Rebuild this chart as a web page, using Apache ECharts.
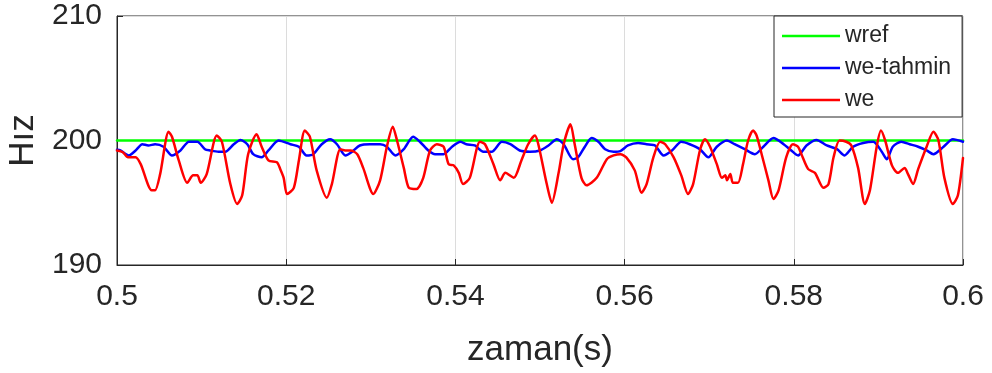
<!DOCTYPE html>
<html>
<head>
<meta charset="utf-8">
<script src="https://cdn.jsdelivr.net/npm/echarts@6/dist/echarts.min.js"></script>
<style>
  html, body { margin: 0; padding: 0; background: #ffffff; }
  #chart { width: 992px; height: 373px; }
</style>
</head>
<body>
<div id="chart"></div>
<script>
// Speed reference, estimated speed and measured speed over 0.5–0.6 s
const seriesNames = ['wref', 'we-tahmin', 'we'];

const wrefTime = [0.5, 0.6];
const wrefValues = [200, 200];

const weTahminTime = [
  0.5000, 0.5004, 0.5014, 0.5022, 0.5030, 0.5037, 0.5045, 0.5055, 0.5065, 0.5075,
  0.5085, 0.5095, 0.5104, 0.5110, 0.5120, 0.5128, 0.5138, 0.5146, 0.5154, 0.5161,
  0.5171, 0.5179, 0.5191, 0.5205, 0.5215, 0.5224, 0.5232, 0.5242, 0.5252, 0.5260,
  0.5270, 0.5278, 0.5287, 0.5299, 0.5311, 0.5319, 0.5329, 0.5339, 0.5350, 0.5358,
  0.5368, 0.5376, 0.5386, 0.5396, 0.5406, 0.5413, 0.5423, 0.5433, 0.5443, 0.5455,
  0.5465, 0.5476, 0.5488, 0.5500, 0.5510, 0.5520, 0.5528, 0.5539, 0.5545, 0.5553,
  0.5561, 0.5569, 0.5577, 0.5587, 0.5595, 0.5604, 0.5616, 0.5626, 0.5636, 0.5646,
  0.5656, 0.5667, 0.5677, 0.5689, 0.5699, 0.5709, 0.5721, 0.5730, 0.5742, 0.5754,
  0.5764, 0.5776, 0.5788, 0.5797, 0.5805, 0.5815, 0.5827, 0.5839, 0.5851, 0.5860,
  0.5870, 0.5882, 0.5894, 0.5904, 0.5910, 0.5917, 0.5927, 0.5937, 0.5947, 0.5957,
  0.5965, 0.5977, 0.5988, 0.6000
];
const weTahminValues = [
  199.25, 199.2, 198.8, 199.2, 199.7, 199.6, 199.7, 199.5, 198.8, 199.2,
  199.9, 199.9, 199.3, 199.2, 199.1, 199.1, 199.7, 200.05, 199.7, 198.9,
  198.65, 199.2, 200.0, 199.7, 199.5, 198.8, 198.9, 199.7, 200.1, 199.7,
  198.8, 199.1, 199.6, 199.7, 199.7, 199.5, 198.8, 199.3, 200.3, 199.9,
  199.2, 198.9, 198.9, 199.5, 199.9, 199.7, 199.6, 199.1, 199.1, 199.9,
  199.7, 199.2, 199.1, 199.2, 199.6, 200.1, 199.7, 198.5, 198.65, 199.5,
  200.2, 199.9, 199.3, 199.1, 199.15, 199.6, 199.8, 199.7, 199.6, 198.8,
  199.2, 199.9, 199.7, 199.3, 198.65, 199.5, 200.0, 199.7, 199.3, 198.9,
  199.5, 200.2, 199.7, 199.2, 198.8, 199.6, 200.05, 199.6, 199.3, 198.8,
  199.5, 199.8, 199.9, 199.1, 198.5, 199.5, 199.9, 199.7, 199.5, 199.2,
  198.9, 199.5, 200.1, 199.9
];

const weTime = [
  0.5000, 0.5007, 0.5013, 0.5022, 0.5028, 0.5041, 0.5045, 0.5051, 0.5061, 0.5065,
  0.5073, 0.5083, 0.5090, 0.5095, 0.5099, 0.5106, 0.5118, 0.5124, 0.5134, 0.5142,
  0.5148, 0.5155, 0.5165, 0.5171, 0.5179, 0.5189, 0.5193, 0.5197, 0.5201, 0.5209,
  0.5215, 0.5222, 0.5228, 0.5236, 0.5248, 0.5254, 0.5264, 0.5270, 0.5276, 0.5284,
  0.5291, 0.5303, 0.5311, 0.5319, 0.5326, 0.5331, 0.5339, 0.5345, 0.5354, 0.5362,
  0.5370, 0.5378, 0.5386, 0.5392, 0.5398, 0.5404, 0.5409, 0.5417, 0.5429, 0.5435,
  0.5445, 0.5453, 0.5459, 0.5469, 0.5478, 0.5486, 0.5494, 0.5498, 0.5508, 0.5514,
  0.5522, 0.5528, 0.5536, 0.5541, 0.5549, 0.5555, 0.5567, 0.5579, 0.5587, 0.5595,
  0.5602, 0.5612, 0.5620, 0.5626, 0.5634, 0.5642, 0.5648, 0.5658, 0.5667, 0.5675,
  0.5681, 0.5689, 0.5695, 0.5701, 0.5709, 0.5715, 0.5719, 0.5721, 0.5725, 0.5728,
  0.5734, 0.5740, 0.5746, 0.5752, 0.5756, 0.5762, 0.5770, 0.5776, 0.5782, 0.5791,
  0.5799, 0.5805, 0.5809, 0.5817, 0.5825, 0.5835, 0.5841, 0.5847, 0.5854, 0.5862,
  0.5868, 0.5876, 0.5884, 0.5890, 0.5898, 0.5903, 0.5908, 0.5916, 0.5923, 0.5931,
  0.5935, 0.5941, 0.5947, 0.5957, 0.5965, 0.5971, 0.5978, 0.5988, 0.5994, 0.6000
];
const weValues = [
  199.2, 199.06, 198.65, 198.65, 198.1, 196.0, 196.0, 197.3, 200.7, 200.3,
  198.4, 196.6, 197.2, 197.2, 196.6, 197.3, 200.4, 199.9, 196.5, 194.9,
  195.6, 198.9, 200.5, 199.5, 198.4, 198.25, 197.7, 197.0, 195.7, 196.2,
  198.4, 200.8, 200.3, 197.6, 195.4, 196.5, 199.3, 199.2, 199.2, 198.9,
  197.8, 195.7, 196.8, 199.5, 201.1, 200.0, 197.8, 196.2, 196.1, 197.0,
  199.2, 199.7, 199.5, 198.1, 198.0, 197.4, 196.5, 197.0, 199.9, 199.7,
  198.1, 196.8, 197.4, 197.0, 198.4, 199.7, 200.4, 199.7, 196.5, 195.0,
  197.4, 199.7, 201.3, 199.7, 197.0, 196.4, 197.0, 198.5, 198.8, 198.9,
  198.65, 197.6, 195.8, 196.5, 198.65, 199.9, 199.7, 198.65, 197.2, 195.7,
  196.5, 199.2, 200.1, 199.5, 198.1, 197.0, 197.2, 196.8, 197.3, 196.6,
  196.6, 198.1, 200.0, 200.8, 200.4, 198.9, 196.8, 195.3, 196.0, 198.65,
  199.7, 199.5, 198.9, 197.7, 197.4, 196.2, 196.5, 198.65, 200.0, 199.9,
  199.6, 197.8, 194.9, 196.0, 199.5, 200.8, 200.0, 198.0, 197.4, 197.8,
  197.3, 196.5, 197.7, 199.5, 200.7, 200.0, 197.0, 194.9, 195.6, 198.6
];

const xTicks = { min: 0.5, max: 0.6, step: 0.02 };
const yTicks = { min: 190, max: 210, step: 10 };

const zip = (xs, ys) => xs.map((x, i) => [x, ys[i]]);

const ink = '#262626';
const font = '"Liberation Sans", Arial, Helvetica, sans-serif';

const chart = echarts.init(document.getElementById('chart'), null, { renderer: 'canvas' });

function lineSeries(name, data, color) {
  return {
    name: name,
    type: 'line',
    data: data,
    showSymbol: false,
    symbol: 'none',
    smooth: 0.25,
    lineStyle: { color: color, width: 2.5, cap: 'round', join: 'round' },
    itemStyle: { color: color },
    animation: false
  };
}

chart.setOption({
  backgroundColor: '#ffffff',
  animation: false,
  grid: {
    left: 117, right: 29, top: 16, bottom: 108,
    outerBoundsMode: 'none',
    containLabel: false,
    show: true, borderColor: ink, borderWidth: 1, backgroundColor: 'transparent'
  },
  legend: {
    orient: 'vertical',
    left: 774, top: 16,
    padding: [7, 11, 4, 8],
    itemGap: 6,
    itemWidth: 58,
    itemHeight: 2.5,
    itemTextGap: 7,
    icon: 'rect',
    backgroundColor: '#ffffff',
    borderColor: ink,
    borderWidth: 1,
    borderRadius: 0,
    textStyle: { color: ink, fontSize: 23, fontFamily: font, lineHeight: 26 },
    data: seriesNames
  },
  xAxis: {
    type: 'value',
    min: xTicks.min, max: xTicks.max, interval: xTicks.step,
    name: 'zaman(s)',
    nameLocation: 'middle',
    nameGap: 68,
    nameTextStyle: { color: ink, fontSize: 35, fontFamily: font },
    axisLine: { show: true, lineStyle: { color: ink, width: 1 } },
    axisTick: { show: true, inside: true, length: 6, lineStyle: { color: ink } },
    axisLabel: {
      color: ink, fontSize: 30, fontFamily: font, margin: 17,
      formatter: v => String(+v.toFixed(2))
    },
    splitLine: { show: true, lineStyle: { color: '#dcdcdc', width: 1 } }
  },
  yAxis: {
    type: 'value',
    min: yTicks.min, max: yTicks.max, interval: yTicks.step,
    name: 'Hız',
    nameLocation: 'middle',
    nameGap: 76,
    nameTextStyle: { color: ink, fontSize: 35, fontFamily: font },
    axisLine: { show: true, lineStyle: { color: ink, width: 1 } },
    axisTick: { show: true, inside: true, length: 6, lineStyle: { color: ink } },
    axisLabel: { color: ink, fontSize: 30, fontFamily: font, margin: 15 },
    splitLine: { show: true, lineStyle: { color: '#dcdcdc', width: 1 } }
  },
  series: [
    lineSeries(seriesNames[0], zip(wrefTime, wrefValues), '#00ff00'),
    lineSeries(seriesNames[1], zip(weTahminTime, weTahminValues), '#0000ff'),
    lineSeries(seriesNames[2], zip(weTime, weValues), '#ff0000')
  ]
});
</script>
</body>
</html>
